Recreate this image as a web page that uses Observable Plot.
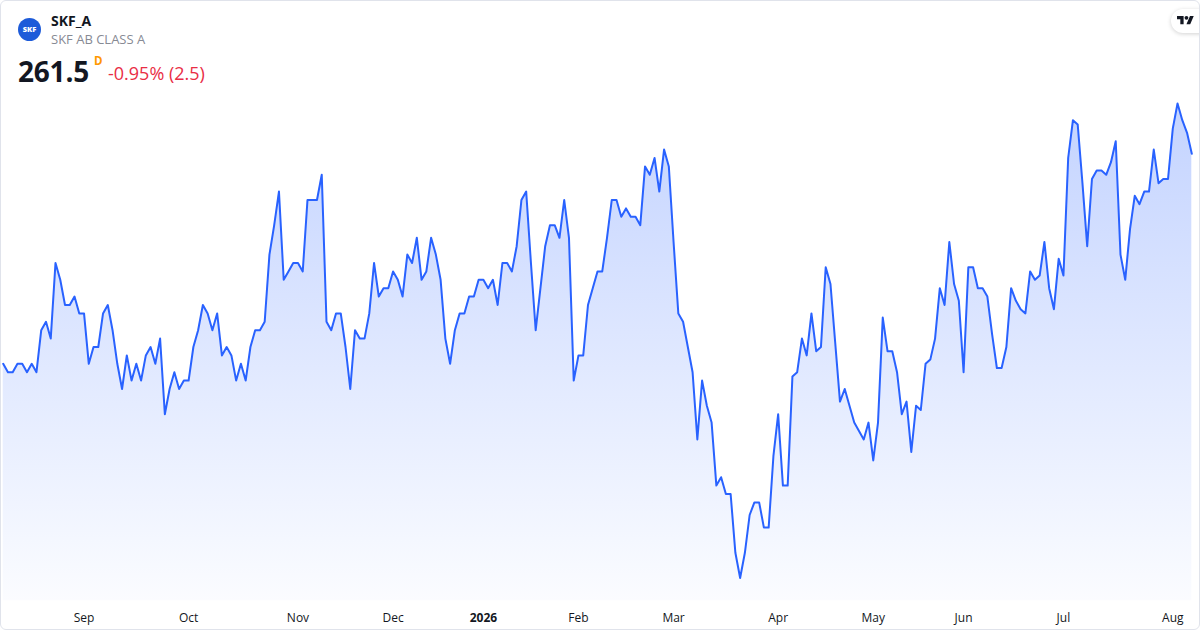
<!DOCTYPE html>
<html>
<head>
<meta charset="utf-8">
<script src="https://cdn.jsdelivr.net/npm/d3@7"></script>
<script src="https://cdn.jsdelivr.net/npm/@observablehq/plot@0.6"></script>
<style>
  html, body { margin: 0; padding: 0; background: #fff; }
  #wrap { position: relative; width: 1200px; height: 630px; overflow: hidden; font-family: "Open Sans", "Noto Sans", sans-serif; background: #fff; }
  #frame { position: absolute; left: 0; top: 0; width: 1200px; height: 630px; box-sizing: border-box; border: 1px solid #e0e3eb; border-radius: 6px; pointer-events: none; }
  #chart { position: absolute; left: 0; top: 90px; }
  .abs { position: absolute; white-space: nowrap; }
  #logo { left: 18px; top: 17.5px; width: 23px; height: 23px; border-radius: 50%; background: #1d5bd9; color: #fff; font-size: 7.5px; font-weight: 800; line-height: 23px; text-align: center; letter-spacing: 0px; }
  #sym { left: 51px; top: 13.5px; font-size: 14px; line-height: 14px; font-weight: 700; color: #131722; }
  #desc { left: 51px; top: 33px; font-size: 13px; line-height: 13px; color: #878a94; }
  #price { left: 18px; top: 57px; font-size: 28px; line-height: 28px; font-weight: 700; color: #131722; letter-spacing: -0.2px; }
  #res { left: 94px; top: 55px; font-size: 11.5px; line-height: 12px; font-weight: 700; color: #ff9800; }
  #chg { left: 108px; top: 64px; font-size: 18px; line-height: 18px; color: #e92d45; }
  #tv { left: 1171px; top: 9px; width: 44px; height: 24px; border-radius: 12px; background: #fff; box-shadow: 0 1px 4px rgba(0,0,0,0.18); }
  #tv svg { position: absolute; left: 6px; top: 4.6px; }
</style>
</head>
<body>
<div id="wrap">
  <div id="chart"></div>
  <div class="abs" id="logo">SKF</div>
  <div class="abs" id="sym">SKF_A</div>
  <div class="abs" id="desc">SKF AB CLASS A</div>
  <div class="abs" id="price">261.5</div>
  <div class="abs" id="res">D</div>
  <div class="abs" id="chg">-0.95% (2.5)</div>
  <div class="abs" id="tv"><svg width="17" height="13.2" viewBox="0 0 36 28"><path d="M14 22H7V11H0V4h14v18zM28 22h-8l7.5-18h8L28 22z" fill="#131722"/><circle cx="20" cy="8" r="4" fill="#131722"/></svg></div>
  <div id="frame"></div>
</div>
<script>
// Daily closes, SKF_A (Aug 2025 – Aug 2026)
const closes = [
  236.5, 235.5, 235.5, 236.5, 236.5, 235.5, 236.5, 235.5, 240.5, 241.5,
  239.5, 248.5, 246.5, 243.5, 243.5, 244.5, 242.5, 242.5, 236.5, 238.5,
  238.5, 242.5, 243.5, 240.5, 236.5, 233.5, 237.5, 234.5, 236.5, 234.5,
  237.5, 238.5, 236.5, 239.5, 230.5, 233.5, 235.5, 233.5, 234.5, 234.5,
  238.5, 240.5, 243.5, 242.5, 240.5, 242.5, 237.5, 238.5, 237.5, 234.5,
  236.5, 234.5, 238.5, 240.5, 240.5, 241.5, 249.5, 253, 257, 246.5,
  247.5, 248.5, 248.5, 247.5, 256, 256, 256, 259, 241.5, 240.5,
  242.5, 242.5, 238.5, 233.5, 240.5, 239.5, 239.5, 242.5, 248.5, 244.5,
  245.5, 245.5, 247.5, 246.5, 244.5, 249.5, 248.5, 251.5, 246.5, 247.5,
  251.5, 249.5, 246.5, 239.5, 236.5, 240.5, 242.5, 242.5, 244.5, 244.5,
  246.5, 246.5, 245.5, 246.5, 243.5, 248.5, 248.5, 247.5, 250.5, 256,
  257, 248.5, 240.5, 245.5, 250.5, 253, 253, 251.5, 256, 251.5,
  234.5, 237.5, 237.5, 243.5, 245.5, 247.5, 247.5, 251.5, 256, 256,
  254, 255, 254, 254, 253, 260, 259, 261, 257, 262,
  260, 251, 242.5, 241.5, 238.5, 235.5, 227.5, 234.5, 231.5, 229.5,
  222, 223, 221, 221, 214, 211, 214, 218.5, 220, 220,
  217, 217, 225.5, 230.5, 222, 222, 235, 235.5, 239.5, 237.5,
  242.5, 238, 238.5, 248, 246, 239, 232, 233.5, 231.5, 229.5,
  228.5, 227.5, 229.5, 225, 229.5, 242, 238, 238, 235.5, 230.5,
  232, 226, 231.5, 231, 236.5, 237, 239.5, 245.5, 243.5, 251,
  246, 244, 235.5, 248, 248, 245.5, 245.5, 244.5, 240, 236,
  236, 238.5, 245.5, 244, 243, 242.5, 247.5, 246.5, 247, 251,
  245.5, 243, 249, 247, 261, 265.5, 265, 258, 250.5, 258.5,
  259.5, 259.5, 259, 260.5, 263, 249.5, 246.5, 252.5, 256.5, 255.5,
  257, 257, 262, 258, 258.5, 258.5, 264.5, 267.5, 265.5, 264, 261.5
];
// Trading-day index of the first session of each month, and its label
const tickIndex = [17, 39, 62, 82, 101, 121, 141, 163, 183, 202, 223, 246];
const tickLabels = ["Sep", "Oct", "Nov", "Dec", "2026", "Feb", "Mar", "Apr", "May", "Jun", "Jul", "Aug"];
const yearLabels = ["2026"];
const areaBase = 208.3;

const series = closes.map((v, i) => ({i, v}));
const ticks = tickIndex.map((i, k) => ({i, label: tickLabels[k]}));
const plainTicks = ticks.filter(d => !yearLabels.includes(d.label));
const yearTicks = ticks.filter(d => yearLabels.includes(d.label));

const H = 540;
// pixel position (inside svg) for a value: 261.5 sits at 63.3, 8.4px per unit
const yPix = v => 63.3 - (v - 261.5) * 8.4;

const chart = Plot.plot({
  width: 1200,
  height: H,
  marginTop: 0,
  marginBottom: 30,
  marginLeft: 0,
  marginRight: 0,
  style: {fontFamily: "'Open Sans', 'Noto Sans', sans-serif", background: "transparent", overflow: "visible"},
  x: {type: "linear", domain: [0, closes.length - 1], range: [2.7, 1191.3], axis: null},
  y: {domain: [211, 267.5], range: [yPix(211), yPix(267.5)], axis: null},
  marks: [
    Plot.areaY(series, {x: "i", y1: areaBase, y2: "v", fill: "url(#tvgrad)", curve: "linear"}),
    Plot.lineY(series, {x: "i", y: "v", stroke: "#2962ff", strokeWidth: 2, strokeLinejoin: "round", strokeLinecap: "round", curve: "linear"}),
    Plot.text(plainTicks, {x: "i", text: "label", frameAnchor: "bottom", dy: 17.5, fontSize: 12, fill: "#131722", lineAnchor: "middle"}),
    Plot.text(yearTicks, {x: "i", text: "label", frameAnchor: "bottom", dy: 17.5, fontSize: 12, fontWeight: 700, fill: "#131722", lineAnchor: "middle"})
  ]
});

const svg = chart.tagName.toLowerCase() === "svg" ? chart : chart.querySelector("svg");
const NS = "http://www.w3.org/2000/svg";
const defs = document.createElementNS(NS, "defs");
const grad = document.createElementNS(NS, "linearGradient");
grad.setAttribute("id", "tvgrad");
grad.setAttribute("gradientUnits", "userSpaceOnUse");
grad.setAttribute("x1", "0"); grad.setAttribute("x2", "0");
grad.setAttribute("y1", "12"); grad.setAttribute("y2", "510");
[[0, "rgba(41,98,255,0.28)"], [1, "rgba(41,98,255,0.02)"]].forEach(([o, c]) => {
  const s = document.createElementNS(NS, "stop");
  s.setAttribute("offset", o);
  s.setAttribute("stop-color", c);
  grad.appendChild(s);
});
defs.appendChild(grad);
svg.insertBefore(defs, svg.firstChild);

document.getElementById("chart").appendChild(chart);
</script>
</body>
</html>
